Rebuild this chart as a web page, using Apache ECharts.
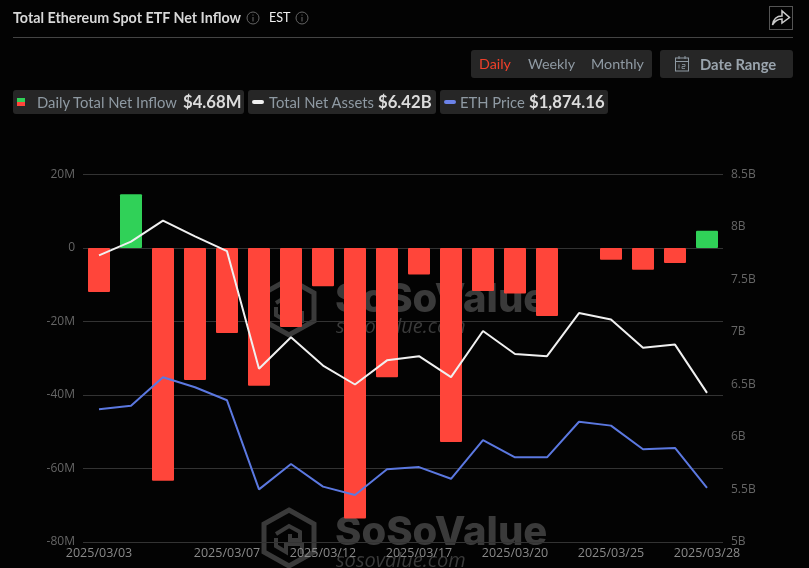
<!DOCTYPE html>
<html>
<head>
<meta charset="utf-8">
<title>Total Ethereum Spot ETF Net Inflow</title>
<script src="https://cdn.jsdelivr.net/npm/echarts@6/dist/echarts.min.js"></script>
<style>
html, body { margin: 0; padding: 0; background: #030303; overflow: hidden; }
#main { position: absolute; left: 0; top: 0; width: 809px; height: 568px; }
#head { position: absolute; left: 0; top: 0; width: 809px; height: 130px; font-family: Lato, sans-serif; }
#head div, #head span, #head svg { position: absolute; white-space: nowrap; }
.box { background: #262626; border-radius: 3px; }
.lab { font-size: 14.8px; color: #8f9aa3; line-height: 18px; }
.tog { font-size: 14.3px; color: #8f9aa3; line-height: 18px; }
.val { font-size: 16.7px; font-weight: 700; color: #dcdcdc; line-height: 18px; }
</style>
</head>
<body>
<div id="main"></div>
<div id="head">
	<span style="left:13px;top:9px;font-size:14.3px;font-weight:700;color:#d8d8d8;line-height:18px">Total Ethereum Spot ETF Net Inflow</span>
	<svg style="left:246px;top:11px" width="14" height="14"><circle cx="7" cy="7" r="6" fill="none" stroke="#666"/><path d="M7 6v4.5M7 3.5v1.2" stroke="#666"/></svg>
	<span style="left:269px;top:9px;font-size:12.6px;color:#f0f0f0;line-height:18px">EST</span>
	<svg style="left:295px;top:11px" width="14" height="14"><circle cx="7" cy="7" r="6" fill="none" stroke="#666"/><path d="M7 6v4.5M7 3.5v1.2" stroke="#666"/></svg>
	<div style="left:769px;top:6px;width:22px;height:22px;border:1px solid #555"></div>
	<svg style="left:771px;top:8px" width="20" height="20"><path d="M1.5 17C2.5 10 7 8 11 8V3l7.5 6.5L11 15v-4C7 11 4 12.5 1.5 17Z" fill="none" stroke="#ccc" stroke-width="1.5"/></svg>
	<div style="left:13px;top:37px;width:780px;height:1px;background:#444"></div>

	<div class="box" style="left:471px;top:50px;width:181px;height:28px"></div>
	<span class="tog" style="left:479px;top:55px;color:#f0402a">Daily</span>
	<span class="tog" style="left:528px;top:55px">Weekly</span>
	<span class="tog" style="left:591px;top:55px">Monthly</span>
	<div class="box" style="left:660px;top:50px;width:133px;height:28px"></div>
	<svg style="left:674px;top:55px" width="17" height="18"><rect x="1.5" y="3" width="13" height="13" fill="none" stroke="#8f9aa3"/><path d="M1.5 6.5h13M5 1v3M11 1v3" stroke="#8f9aa3"/><path d="M5 9.5v4M8 9.5h3v2h-3v2h3" fill="none" stroke="#8f9aa3" stroke-width=".8"/></svg>
	<span class="lab" style="left:700px;top:55px;font-weight:700;color:#9aa4ad">Date Range</span>

	<div class="box" style="left:13px;top:90px;width:231px;height:24px"></div>
	<div style="left:17px;top:98px;width:8px;height:4px;background:#30d158"></div>
	<div style="left:17px;top:102px;width:8px;height:4px;background:#ff453a"></div>
	<span class="lab" style="left:37px;top:93px">Daily Total Net Inflow</span>
	<span class="val" style="left:183px;top:93px">$4.68M</span>

	<div class="box" style="left:248px;top:90px;width:188px;height:24px"></div>
	<div style="left:252px;top:100px;width:12px;height:4px;border-radius:2px;background:#f0f0f0"></div>
	<span class="lab" style="left:269px;top:93px">Total Net Assets</span>
	<span class="val" style="left:378px;top:93px">$6.42B</span>

	<div class="box" style="left:440px;top:90px;width:168px;height:24px"></div>
	<div style="left:444px;top:100px;width:12px;height:4px;border-radius:2px;background:#6b82e8"></div>
	<span class="lab" style="left:460px;top:93px">ETH Price</span>
	<span class="val" style="left:529px;top:93px">$1,874.16</span>
</div>
<script>
var dates = ['2025/03/03', '2025/03/04', '2025/03/05', '2025/03/06', '2025/03/07', '2025/03/10', '2025/03/11', '2025/03/12', '2025/03/13', '2025/03/14',
	'2025/03/17', '2025/03/18', '2025/03/19', '2025/03/20', '2025/03/21', '2025/03/24', '2025/03/25', '2025/03/26', '2025/03/27', '2025/03/28'];
var tickDates = ['2025/03/03', '2025/03/07', '2025/03/12', '2025/03/17', '2025/03/20', '2025/03/25', '2025/03/28'];
// net inflow, million USD
var netInflow = [-12.0, 14.6, -63.3, -35.9, -23.1, -37.5, -21.5, -10.4, -73.6, -35.2, -7.2, -52.8, -11.7, -12.4, -18.5, 0, -3.2, -5.9, -4.1, 4.68];
// net assets, billion USD
var netAssets = [7.73, 7.86, 8.06, 7.91, 7.77, 6.65, 6.95, 6.68, 6.50, 6.73, 6.77, 6.57, 7.01, 6.79, 6.77, 7.18, 7.12, 6.85, 6.88, 6.42];
var ethPrice = [2157, 2169, 2272, 2236, 2189, 1869, 1960, 1879, 1849, 1941, 1949, 1907, 2046, 1984, 1984, 2112, 2098, 2013, 2018, 1874.16];

var wmColor = '#3a3a3a';

function watermark(x, y, ty, subY) {
	return {
		type: 'group',
		x: x,
		y: y,
		silent: true,
		z: 0,
		children: [
			{ type: 'polygon', z: 0, shape: { points: [[27, 2], [52, 16], [52, 44], [27, 58], [2, 44], [2, 16]] }, style: { fill: 'none', stroke: wmColor, lineWidth: 5 } },
			{ type: 'polyline', z: 0, shape: { points: [[14, 26], [27, 18], [38, 24], [38, 32], [28, 32], [28, 26]] }, style: { fill: 'none', stroke: wmColor, lineWidth: 4 } },
			{ type: 'polyline', z: 0, shape: { points: [[14, 30], [14, 38], [24, 44], [24, 36], [40, 36], [40, 46]] }, style: { fill: 'none', stroke: wmColor, lineWidth: 4 } },
			{ type: 'text', z: 0, x: 73, y: ty, style: { text: 'SoSoValue', fill: wmColor, font: '800 40px Inter', letterSpacing: -1.2 } },
			{ type: 'text', z: 0, x: 74, y: subY, style: { text: 'sosovalue.com', fill: wmColor, font: 'italic 20px "Open Sans"', letterSpacing: 1.6 } }
		]
	};
}

var myChart = echarts.init(document.getElementById('main'), null, { renderer: 'canvas' });

var option = {
	backgroundColor: '#030303',
	animation: false,
	graphic: [watermark(262, 277, 3, 40), watermark(262, 508, 5, 43)],
	grid: { left: 83, right: 86, top: 174.5, bottom: 26 },
	xAxis: {
		type: 'category',
		data: dates,
		axisLine: { onZero: false, show: false },
		axisTick: { show: false },
		axisLabel: {
			color: '#8a8a8a',
			fontFamily: 'Open Sans',
			fontSize: 12.5,
			margin: 5,
			hideOverlap: false,
			interval: function(i, v) {
				return tickDates.indexOf(v) >= 0;
			}
		}
	},
	yAxis: [ {
		type: 'value',
		min: -80,
		max: 20,
		interval: 20,
		axisLine: { show: false },
		axisTick: { show: false },
		splitLine: { lineStyle: { color: '#333' } },
		axisLabel: {
			color: '#666',
			fontFamily: 'Open Sans',
			fontSize: 12,
			margin: 8,
			formatter: function(v) {
				return v == 0 ? '0' : v + 'M';
			}
		}
	}, {
		type: 'value',
		min: 5,
		max: 8.5,
		interval: 0.5,
		position: 'right',
		axisLine: { show: false },
		axisTick: { show: false },
		splitLine: { show: false },
		axisLabel: {
			color: '#666',
			fontFamily: 'Open Sans',
			fontSize: 12,
			margin: 8,
			formatter: function(v) {
				return v + 'B';
			}
		}
	}, {
		// price scale is hidden in the original
		type: 'value',
		min: 1680,
		max: 3000,
		show: false
	} ],
	series: [ {
		name: 'Daily Total Net Inflow',
		type: 'bar',
		data: netInflow,
		barWidth: 22,
		itemStyle: {
			borderRadius: 1,
			color: function(p) {
				return p.value >= 0 ? '#30d158' : '#ff453a';
			}
		}
	}, {
		name: 'Total Net Assets',
		type: 'line',
		yAxisIndex: 1,
		data: netAssets,
		showSymbol: false,
		lineStyle: { color: '#f0f0f0', width: 2 },
		z: 5
	}, {
		name: 'ETH Price',
		type: 'line',
		yAxisIndex: 2,
		data: ethPrice,
		showSymbol: false,
		lineStyle: { color: '#5b78e0', width: 2 },
		z: 5
	} ]
};

myChart.setOption(option);
</script>
</body>
</html>
